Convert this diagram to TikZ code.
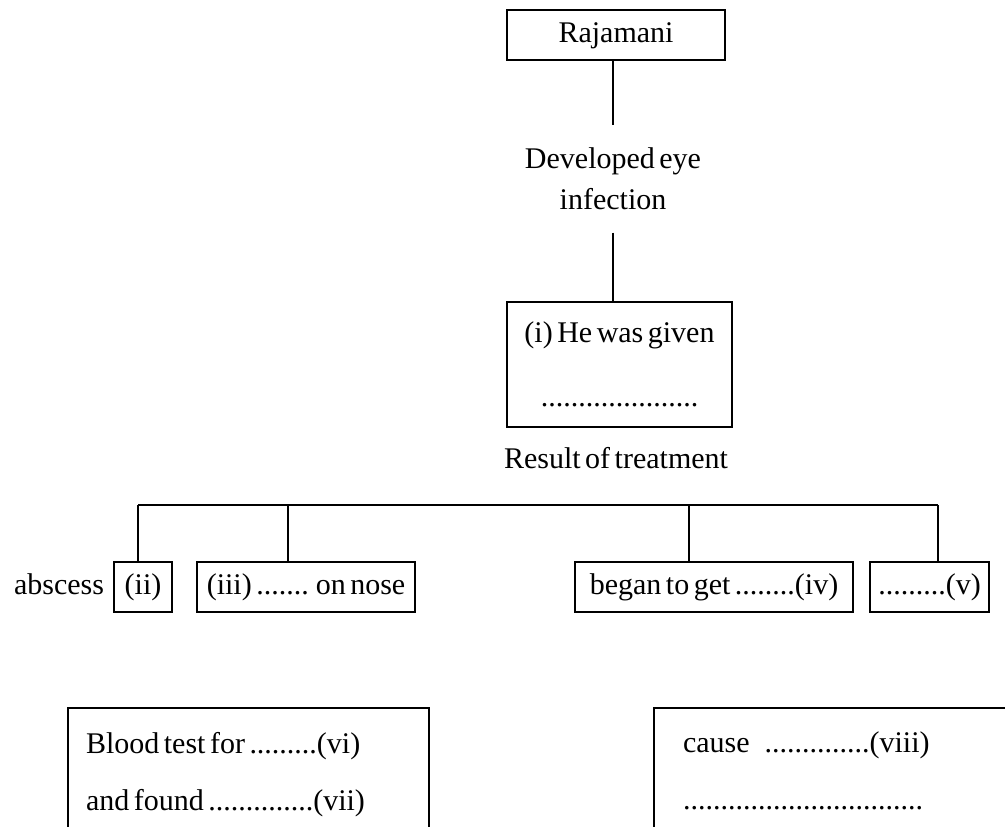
\documentclass[tikz,border=0pt]{standalone}
\usepackage{fontspec}
\setmainfont{Liberation Serif}[WordSpace=0.6]
\usetikzlibrary{positioning}
\tikzstyle{chartstyle}=[
    x=1pt, y=-1pt,
    line width=1.5pt,
    every node/.style={
        font=\fontsize{30}{36}\selectfont,
        inner sep=0pt,
        outer sep=0pt,
    },
]
\tikzstyle{blank}=[draw, text height=21pt, text depth=6.5pt, minimum height=50pt]
\tikzstyle{wide}=[draw, anchor=north west, align=flush left, inner ysep=24pt,
    font=\fontsize{30}{57}\selectfont]

\begin{document}
\begin{tikzpicture}[chartstyle]
        \useasboundingbox (0,0) rectangle (1005,827);
        \clip (0,0) rectangle (1005,827);
        \node[blank, minimum width=218pt] (raj) at (616,35) {Rajamani};
        \node[anchor=north, align=center, inner ysep=22.75pt,
            font=\fontsize{30}{41}\selectfont] (dev) at (613,125) {Developed eye\\infection};
        \node[draw, align=center, minimum width=225pt, minimum height=125pt,
            font=\fontsize{30}{64}\selectfont] (give) at (619.5,364.5) {(i) He was given\\.....................};
        \node[anchor=base] (res) at (616,468) {Result of treatment};
        \node[blank, minimum width=58pt] (ii) at (143,587) {(ii)};
        \node[base left=10pt of ii] (abs) {abscess};
        \node[blank, minimum width=218pt] (iii) at (306,587) {(iii) ....... on nose};
        \node[blank, minimum width=278pt] (iv) at (714,587) {began to get ........(iv)};
        \node[blank, minimum width=119pt] (v) at (929.5,587) {.........(v)};
        \node[wide, text width=325pt, inner xsep=18pt] (blood) at (68,708)
            {Blood test for .........(vi)\\and found ..............(vii)\\\mbox{}};
        \node[wide, text width=400pt, inner xsep=29pt] (cause) at (654,708)
            {cause\hspace{15pt}..............(viii)\\................................\\\mbox{}};
        \draw (raj.south -| dev.north) -- (dev.north);
        \draw (dev.south) -- (dev.south |- give.north);
        \coordinate (t2) at (138,505);
        \coordinate (t3) at (288,505);
        \coordinate (t4) at (689,505);
        \coordinate (t5) at (938,505);
        \draw (t2) -- (t5);
        \foreach \n/\t in {ii/t2, iii/t3, iv/t4, v/t5}
            \draw (\t) -- (\t |- \n.north);
    \end{tikzpicture}
\end{document}
